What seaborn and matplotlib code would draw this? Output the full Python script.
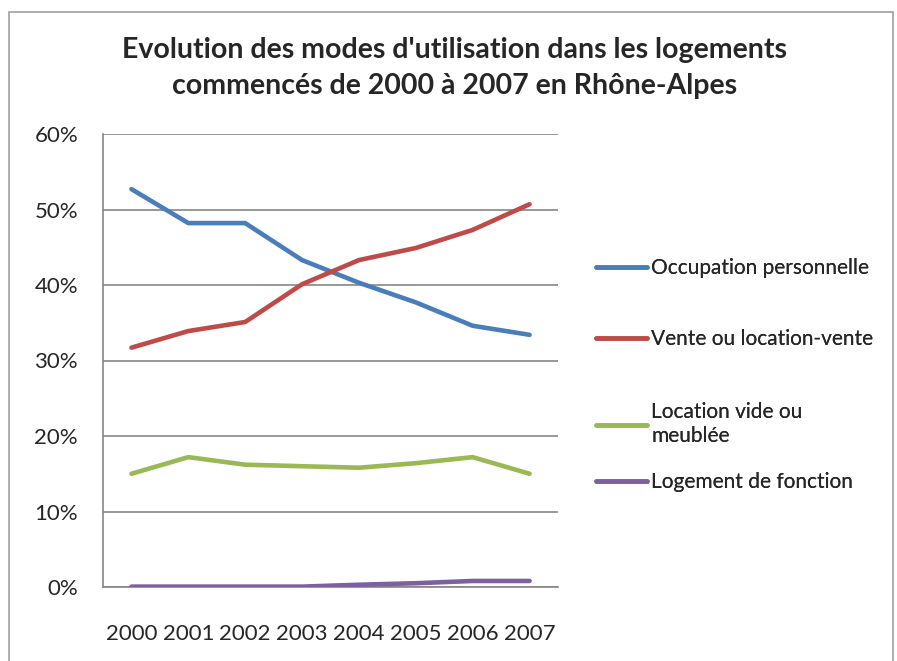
import matplotlib.pyplot as plt
import matplotlib.patches as mpatches
import pandas as pd
import seaborn as sns
from matplotlib.lines import Line2D
from matplotlib.ticker import FuncFormatter

years = ["2000", "2001", "2002", "2003", "2004", "2005", "2006", "2007"]
occupation = [52.7, 48.2, 48.2, 43.3, 40.3, 37.7, 34.6, 33.4]
vente = [31.7, 33.9, 35.1, 40.1, 43.3, 44.9, 47.3, 50.7]
location = [15.0, 17.2, 16.2, 16.0, 15.8, 16.4, 17.2, 15.0]
fonction = [0.05, 0.05, 0.05, 0.05, 0.3, 0.5, 0.8, 0.8]

series = ["Occupation personnelle", "Vente ou location-vente",
          "Location vide ou\nmeublée", "Logement de fonction"]
colors = ["#4A7EBB", "#BE4B48", "#98B954", "#7D60A0"]

df = pd.DataFrame({
    "year": years * 4,
    "value": occupation + vente + location + fonction,
    "serie": [s for s in series for _ in years],
})
df["x"] = df["year"].map({y: i for i, y in enumerate(years)})

sns.set_style("white")
plt.rcParams["font.family"] = ["Lato", "DejaVu Sans"]

fig = plt.figure(figsize=(8.97, 6.61), dpi=100)
ax = fig.add_axes([103 / 897, 1 - 587 / 661, 455 / 897, 453 / 661])

sns.lineplot(data=df, x="x", y="value", hue="serie", hue_order=series,
             palette=colors, linewidth=3.3, ax=ax, legend=False,
             solid_capstyle="round", zorder=3)

ax.set_xlim(-0.5, 7.5)
ax.set_ylim(0, 60)
ax.set_yticks(range(0, 61, 10))
ax.yaxis.set_major_formatter(FuncFormatter(lambda v, _: f"{v:.0f}%"))
ax.set_xticks(range(8))
ax.set_xticklabels(years)
ax.set_xticks([i - 0.5 for i in range(9)], minor=True)
ax.tick_params(axis="x", which="major", length=0, pad=27, labelsize=16)
ax.tick_params(axis="x", which="minor", length=6, color="#868686", direction="out")
ax.tick_params(axis="y", length=8, color="#868686", direction="out", pad=10, labelsize=16)
ax.set_xlabel("")
ax.set_ylabel("")
ax.grid(axis="y", color="#868686", linewidth=1.2)
ax.set_axisbelow(True)
for side in ["top", "right"]:
    ax.spines[side].set_visible(False)
for side in ["left", "bottom"]:
    ax.spines[side].set_color("#868686")
    ax.spines[side].set_linewidth(1.2)

fig.text(0.507, 1 - 68 / 661,
         "Evolution des modes d'utilisation dans les logements\ncommencés de 2000 à 2007 en Rhône-Alpes",
         ha="center", va="center", fontsize=20.5, fontweight="bold", linespacing=1.45)

legend_y = [268, 339, 424, 482]
for s, c, yy in zip(series, colors, legend_y):
    leg = fig.legend(handles=[Line2D([0], [0], color=c, linewidth=3.3)], labels=[s],
                     loc="center left", bbox_to_anchor=(596 / 897, 1 - yy / 661),
                     frameon=False, fontsize=15, handlelength=2.45, handletextpad=0.2,
                     borderpad=0, borderaxespad=0, labelspacing=0)
    fig.add_artist(leg)

fig.patches.append(mpatches.Rectangle((9 / 897, -0.05), 884 / 897, 1.05 - 12 / 661,
                                      transform=fig.transFigure, fill=False,
                                      edgecolor="#a0a0a0", linewidth=1.2))

fig.savefig("out.png", dpi=100)
